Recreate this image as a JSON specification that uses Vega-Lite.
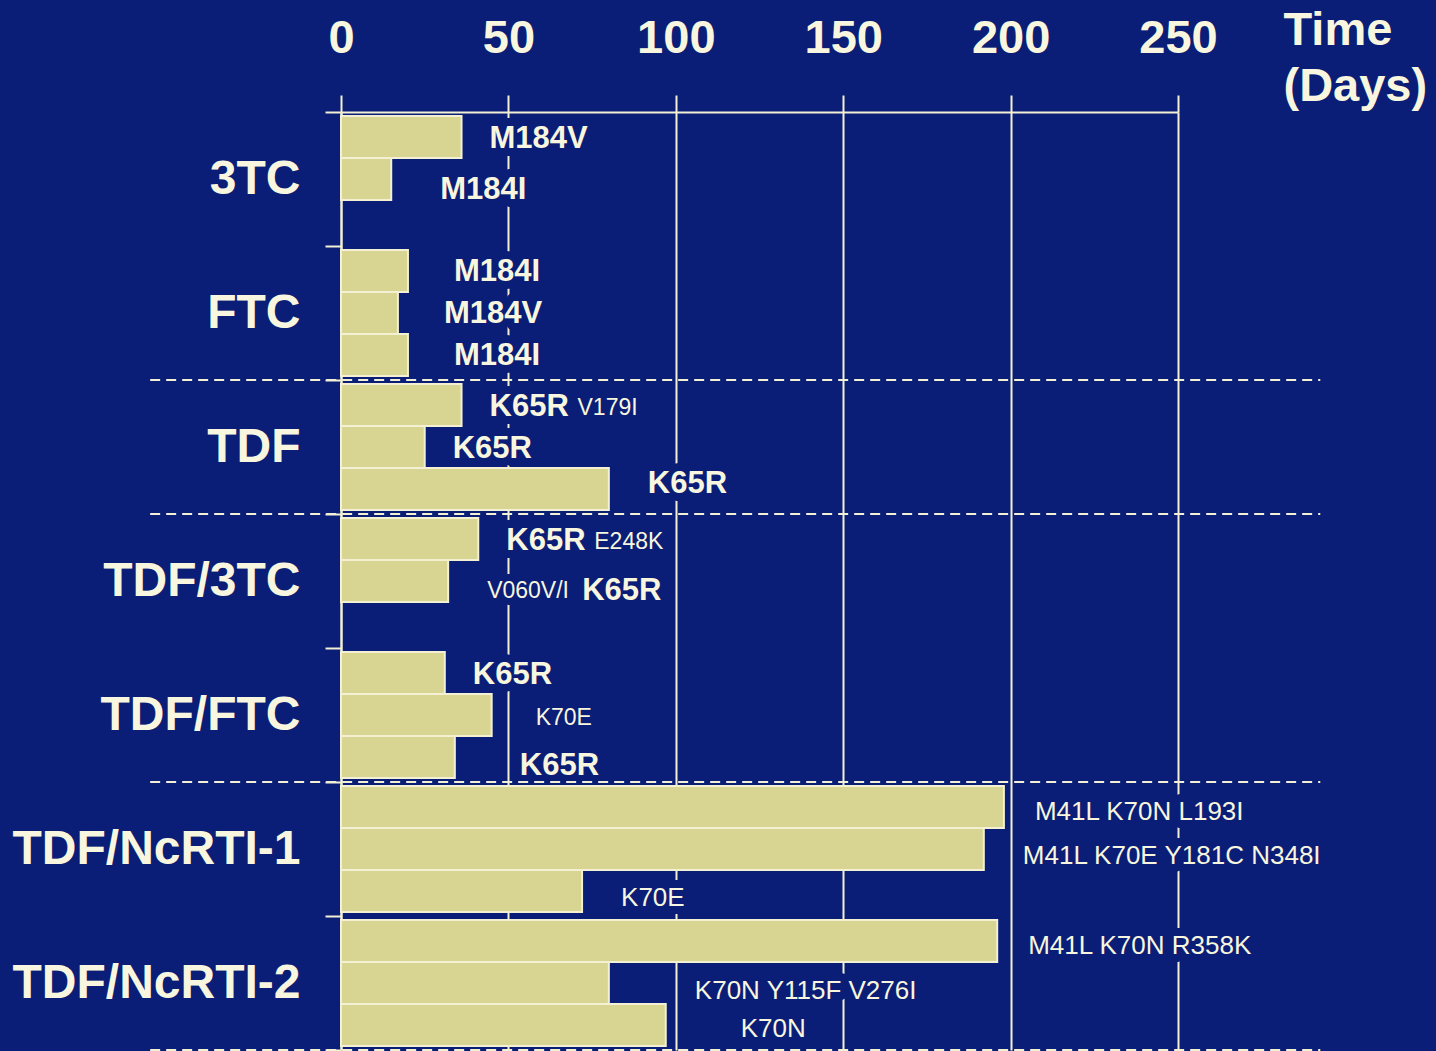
{
  "$schema": "https://vega.github.io/schema/vega-lite/v6.json",
  "width": 837,
  "height": 938,
  "autosize": {"type": "none"},
  "padding": {"left": 341, "top": 112, "right": 258, "bottom": 1},
  "background": "#0A1E78",
  "config": {"view": {"stroke": null}, "font": "Liberation Sans"},
  "data": {"values": [
    {"id": "3TC-1", "group": "3TC", "idx": 1, "days": 36, "bold": "M184V"},
    {"id": "3TC-2", "group": "3TC", "idx": 2, "days": 15, "bold": "M184I"},
    {"id": "FTC-1", "group": "FTC", "idx": 1, "days": 20, "bold": "M184I"},
    {"id": "FTC-2", "group": "FTC", "idx": 2, "days": 17, "bold": "M184V"},
    {"id": "FTC-3", "group": "FTC", "idx": 3, "days": 20, "bold": "M184I"},
    {"id": "TDF-1", "group": "TDF", "idx": 1, "days": 36, "bold": "K65R", "post": "V179I"},
    {"id": "TDF-2", "group": "TDF", "idx": 2, "days": 25, "bold": "K65R"},
    {"id": "TDF-3", "group": "TDF", "idx": 3, "days": 80, "bold": "K65R"},
    {"id": "TDF/3TC-1", "group": "TDF/3TC", "idx": 1, "days": 41, "bold": "K65R", "post": "E248K"},
    {"id": "TDF/3TC-2", "group": "TDF/3TC", "idx": 2, "days": 32, "pre": "V060V/I", "bold": "K65R"},
    {"id": "TDF/FTC-1", "group": "TDF/FTC", "idx": 1, "days": 31, "bold": "K65R"},
    {"id": "TDF/FTC-2", "group": "TDF/FTC", "idx": 2, "days": 45, "note": "K70E"},
    {"id": "TDF/FTC-3", "group": "TDF/FTC", "idx": 3, "days": 34, "bold": "K65R"},
    {"id": "N1-1", "group": "TDF/NcRTI-1", "idx": 1, "days": 198, "note": "M41L K70N L193I"},
    {"id": "N1-2", "group": "TDF/NcRTI-1", "idx": 2, "days": 192, "note": "M41L K70E Y181C N348I"},
    {"id": "N1-3", "group": "TDF/NcRTI-1", "idx": 3, "days": 72, "note": "K70E"},
    {"id": "N2-1", "group": "TDF/NcRTI-2", "idx": 1, "days": 196, "note": "M41L K70N R358K"},
    {"id": "N2-2", "group": "TDF/NcRTI-2", "idx": 2, "days": 80, "note": "K70N Y115F V276I"},
    {"id": "N2-3", "group": "TDF/NcRTI-2", "idx": 3, "days": 97, "note": "K70N"}
  ]},
  "encoding": {
    "y": {
      "field": "group", "type": "nominal",
      "scale": {"domain": ["3TC", "FTC", "TDF", "TDF/3TC", "TDF/FTC", "TDF/NcRTI-1", "TDF/NcRTI-2"], "paddingInner": 0, "paddingOuter": 0},
      "axis": {"orient": "left", "tickBand": "extent", "tickSize": 16, "tickColor": "#F3F0D3", "tickWidth": 2, "domainColor": "#F3F0D3", "domainWidth": 2, "labelFontSize": 48, "labelFontWeight": "bold", "labelColor": "#F8F6DE", "labelPadding": 25, "labelLimit": 400, "grid": false, "title": null}
    }
  },
  "layer": [
    {
      "mark": {"type": "bar", "fill": "#D8D592", "stroke": "#F3F0D3", "strokeWidth": 2, "orient": "horizontal"},
      "encoding": {
        "x": {
          "field": "days", "type": "quantitative",
          "scale": {"domain": [0, 250], "nice": false},
          "axis": {"orient": "top", "values": [0, 50, 100, 150, 200, 250], "tickSize": 17, "tickColor": "#F3F0D3", "tickWidth": 2, "domainColor": "#F3F0D3", "domainWidth": 2, "grid": true, "gridColor": "#F3F0D3", "gridWidth": 2, "gridOpacity": 1, "labelFontSize": 47, "labelFontWeight": "bold", "labelColor": "#F8F6DE", "labelPadding": 33, "labelFlush": false, "labelOverlap": false, "title": ["Time", "(Days)"], "titleFontSize": 47, "titleFontWeight": "bold", "titleColor": "#F8F6DE", "titleAngle": 0, "titleAlign": "left", "titleBaseline": "top", "titleX": 942, "titleY": -105, "titleLineHeight": 56}
        },
        "yOffset": {"field": "idx", "type": "ordinal", "scale": {"domain": [1, 2, 3], "paddingInner": 0, "paddingOuter": 0.095}}
      }
    },
    {
      "encoding": {
        "x": {"field": "days", "type": "quantitative"},
        "yOffset": {"field": "idx", "type": "ordinal", "scale": {"domain": [1, 2, 3], "paddingInner": 0, "paddingOuter": 0.095}}
      },
      "layer": [
        {
          "transform": [{"filter": {"field": "id", "oneOf": ["3TC-1", "TDF-1", "TDF/3TC-1", "TDF/FTC-1", "TDF-2"]}}],
          "encoding": {"text": {"field": "bold"}},
          "layer": [
            {"mark": {"type": "text", "align": "left", "baseline": "middle", "fontSize": 31, "fontWeight": "bold", "dx": 28, "dy": 2, "color": "#0A1E78", "stroke": "#0A1E78", "strokeWidth": 16, "strokeJoin": "round"}},
            {"mark": {"type": "text", "align": "left", "baseline": "middle", "fontSize": 31, "fontWeight": "bold", "dx": 28, "dy": 2, "color": "#F8F6DE"}}
          ]
        },
        {
          "transform": [{"filter": {"field": "id", "oneOf": ["FTC-1", "FTC-2", "FTC-3"]}}],
          "encoding": {"text": {"field": "bold"}},
          "layer": [
            {"mark": {"type": "text", "align": "left", "baseline": "middle", "fontSize": 31, "fontWeight": "bold", "dx": 46, "dy": 1, "color": "#0A1E78", "stroke": "#0A1E78", "strokeWidth": 16, "strokeJoin": "round"}},
            {"mark": {"type": "text", "align": "left", "baseline": "middle", "fontSize": 31, "fontWeight": "bold", "dx": 46, "dy": 1, "color": "#F8F6DE"}}
          ]
        },
        {
          "transform": [{"filter": {"field": "id", "oneOf": ["3TC-2"]}}],
          "encoding": {"text": {"field": "bold"}},
          "layer": [
            {"mark": {"type": "text", "align": "left", "baseline": "middle", "fontSize": 31, "fontWeight": "bold", "dx": 49, "dy": 11, "color": "#0A1E78", "stroke": "#0A1E78", "strokeWidth": 16, "strokeJoin": "round"}},
            {"mark": {"type": "text", "align": "left", "baseline": "middle", "fontSize": 31, "fontWeight": "bold", "dx": 49, "dy": 11, "color": "#F8F6DE"}}
          ]
        },
        {
          "transform": [{"filter": {"field": "id", "oneOf": ["TDF-3"]}}],
          "encoding": {"text": {"field": "bold"}},
          "layer": [
            {"mark": {"type": "text", "align": "left", "baseline": "middle", "fontSize": 31, "fontWeight": "bold", "dx": 39, "dy": -5, "color": "#0A1E78", "stroke": "#0A1E78", "strokeWidth": 16, "strokeJoin": "round"}},
            {"mark": {"type": "text", "align": "left", "baseline": "middle", "fontSize": 31, "fontWeight": "bold", "dx": 39, "dy": -5, "color": "#F8F6DE"}}
          ]
        },
        {
          "transform": [{"filter": {"field": "id", "oneOf": ["TDF/FTC-3"]}}],
          "encoding": {"text": {"field": "bold"}},
          "layer": [
            {"mark": {"type": "text", "align": "left", "baseline": "middle", "fontSize": 31, "fontWeight": "bold", "dx": 65, "dy": 9, "color": "#0A1E78", "stroke": "#0A1E78", "strokeWidth": 16, "strokeJoin": "round"}},
            {"mark": {"type": "text", "align": "left", "baseline": "middle", "fontSize": 31, "fontWeight": "bold", "dx": 65, "dy": 9, "color": "#F8F6DE"}}
          ]
        },
        {
          "transform": [{"filter": {"field": "id", "oneOf": ["TDF/3TC-2"]}}],
          "encoding": {"text": {"field": "bold"}},
          "layer": [
            {"mark": {"type": "text", "align": "left", "baseline": "middle", "fontSize": 31, "fontWeight": "bold", "dx": 134, "dy": 10, "color": "#0A1E78", "stroke": "#0A1E78", "strokeWidth": 16, "strokeJoin": "round"}},
            {"mark": {"type": "text", "align": "left", "baseline": "middle", "fontSize": 31, "fontWeight": "bold", "dx": 134, "dy": 10, "color": "#F8F6DE"}}
          ]
        },
        {
          "transform": [{"filter": {"field": "id", "oneOf": ["TDF/3TC-2"]}}],
          "encoding": {"text": {"field": "pre"}},
          "layer": [
            {"mark": {"type": "text", "align": "left", "baseline": "middle", "fontSize": 23, "dx": 39, "dy": 10, "color": "#0A1E78", "stroke": "#0A1E78", "strokeWidth": 14, "strokeJoin": "round"}},
            {"mark": {"type": "text", "align": "left", "baseline": "middle", "fontSize": 23, "dx": 39, "dy": 10, "color": "#F8F6DE"}}
          ]
        },
        {
          "transform": [{"filter": {"field": "id", "oneOf": ["TDF-1", "TDF/3TC-1"]}}],
          "encoding": {"text": {"field": "post"}},
          "layer": [
            {"mark": {"type": "text", "align": "left", "baseline": "middle", "fontSize": 23, "dx": 116, "dy": 3, "color": "#0A1E78", "stroke": "#0A1E78", "strokeWidth": 11, "strokeJoin": "round"}},
            {"mark": {"type": "text", "align": "left", "baseline": "middle", "fontSize": 23, "dx": 116, "dy": 3, "color": "#F8F6DE"}}
          ]
        },
        {
          "transform": [{"filter": {"field": "id", "oneOf": ["TDF/FTC-2"]}}],
          "encoding": {"text": {"field": "note"}},
          "layer": [
            {"mark": {"type": "text", "align": "left", "baseline": "middle", "fontSize": 23, "dx": 44, "dy": 3, "color": "#0A1E78", "stroke": "#0A1E78", "strokeWidth": 16, "strokeJoin": "round"}},
            {"mark": {"type": "text", "align": "left", "baseline": "middle", "fontSize": 23, "dx": 44, "dy": 3, "color": "#F8F6DE"}}
          ]
        },
        {
          "transform": [{"filter": {"field": "id", "oneOf": ["N1-1", "N2-1"]}}],
          "encoding": {"text": {"field": "note"}},
          "layer": [
            {"mark": {"type": "text", "align": "left", "baseline": "middle", "fontSize": 26, "dx": 31, "dy": 5, "color": "#0A1E78", "stroke": "#0A1E78", "strokeWidth": 16, "strokeJoin": "round"}},
            {"mark": {"type": "text", "align": "left", "baseline": "middle", "fontSize": 26, "dx": 31, "dy": 5, "color": "#F8F6DE"}}
          ]
        },
        {
          "transform": [{"filter": {"field": "id", "oneOf": ["N1-2", "N1-3"]}}],
          "encoding": {"text": {"field": "note"}},
          "layer": [
            {"mark": {"type": "text", "align": "left", "baseline": "middle", "fontSize": 26, "dx": 39, "dy": 7, "color": "#0A1E78", "stroke": "#0A1E78", "strokeWidth": 16, "strokeJoin": "round"}},
            {"mark": {"type": "text", "align": "left", "baseline": "middle", "fontSize": 26, "dx": 39, "dy": 7, "color": "#F8F6DE"}}
          ]
        },
        {
          "transform": [{"filter": {"field": "id", "oneOf": ["N2-2"]}}],
          "encoding": {"text": {"field": "note"}},
          "layer": [
            {"mark": {"type": "text", "align": "left", "baseline": "middle", "fontSize": 26, "dx": 86, "dy": 8, "color": "#0A1E78", "stroke": "#0A1E78", "strokeWidth": 16, "strokeJoin": "round"}},
            {"mark": {"type": "text", "align": "left", "baseline": "middle", "fontSize": 26, "dx": 86, "dy": 8, "color": "#F8F6DE"}}
          ]
        },
        {
          "transform": [{"filter": {"field": "id", "oneOf": ["N2-3"]}}],
          "encoding": {"text": {"field": "note"}},
          "layer": [
            {"mark": {"type": "text", "align": "left", "baseline": "middle", "fontSize": 26, "dx": 75, "dy": 4, "color": "#0A1E78", "stroke": "#0A1E78", "strokeWidth": 16, "strokeJoin": "round"}},
            {"mark": {"type": "text", "align": "left", "baseline": "middle", "fontSize": 26, "dx": 75, "dy": 4, "color": "#F8F6DE"}}
          ]
        }
      ]
    },
    {
      "data": {"values": [{"group": "FTC"}, {"group": "TDF"}, {"group": "TDF/FTC"}, {"group": "TDF/NcRTI-2"}]},
      "mark": {"type": "rule", "strokeDash": [10, 6], "strokeWidth": 2, "color": "#F3F0D3", "clip": false},
      "encoding": {
        "y": {"field": "group", "type": "nominal", "bandPosition": 1},
        "x": {"datum": -57},
        "x2": {"datum": 292.5}
      }
    }
  ]
}
